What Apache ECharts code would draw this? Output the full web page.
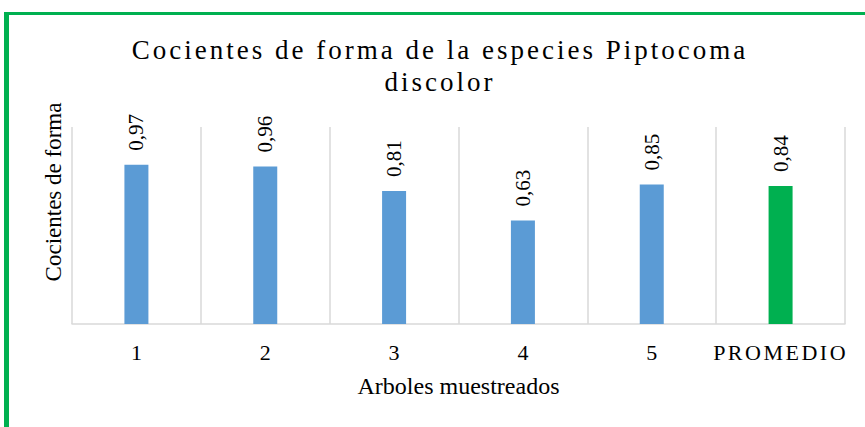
<!DOCTYPE html>
<html>
<head>
<meta charset="utf-8">
<script src="https://cdn.jsdelivr.net/npm/echarts@6/dist/echarts.min.js"></script>
<style>
  html, body { margin: 0; padding: 0; background: #fff; }
  #wrap { position: relative; width: 865px; height: 427px; overflow: hidden; }
  #chart { position: absolute; left: 0; top: 0; width: 865px; height: 427px; }
  #frame {
    position: absolute; left: 4px; top: 12px; width: 900px; height: 500px;
    border-left: 5px solid #00b050; border-top: 3px solid #00b050;
    pointer-events: none;
  }
</style>
</head>
<body>
<div id="wrap">
  <div id="chart"></div>
  <div id="frame"></div>
</div>
<script>
// datos del grafico
const titleText = 'Cocientes de forma de la especies Piptocoma\ndiscolor'
const categories = ['1', '2', '3', '4', '5', 'PROMEDIO']
const cocientes = [0.97, 0.96, 0.81, 0.63, 0.85, 0.84]
const barColors = ['#5b9bd5', '#5b9bd5', '#5b9bd5', '#5b9bd5', '#5b9bd5', '#00b050']
const xName = 'Arboles muestreados'
const yName = 'Cocientes de forma'

const serif = 'Liberation Serif'

const chart = echarts.init(document.getElementById('chart'), null, { renderer: 'svg' })

chart.setOption({
  animation: false,
  title: {
    text: titleText,
    left: 440,
    top: 34,
    padding: 0,
    textAlign: 'center',
    textStyle: {
      fontFamily: serif,
      fontSize: 27,
      fontWeight: 'normal',
      color: '#000',
      lineHeight: 32
    }
  },
  grid: {
    left: 72,
    right: 20,
    top: 127,
    bottom: 103
  },
  xAxis: {
    type: 'category',
    data: categories,
    name: xName,
    nameLocation: 'middle',
    nameGap: 50,
    nameTextStyle: {
      fontFamily: serif,
      fontSize: 24,
      color: '#000'
    },
    axisLine: { lineStyle: { color: '#d9d9d9', width: 1.5 } },
    axisTick: { show: false },
    axisLabel: {
      interval: 0,
      margin: 17,
      fontFamily: serif,
      fontSize: 22,
      color: '#000'
    },
    splitLine: {
      show: true,
      interval: 0,
      lineStyle: { color: '#d9d9d9', width: 1.5 }
    }
  },
  yAxis: {
    type: 'value',
    min: 0,
    max: 1.2,
    axisLine: { show: false },
    axisTick: { show: false },
    axisLabel: { show: false },
    splitLine: { show: false }
  },
  graphic: [
    {
      type: 'text',
      x: 53,
      y: 192,
      rotation: Math.PI / 2,
      style: {
        text: yName,
        fontFamily: serif,
        fontSize: 23,
        fill: '#000',
        align: 'center',
        verticalAlign: 'middle'
      }
    }
  ],
  series: [
    {
      type: 'bar',
      barWidth: 24,
      data: cocientes.map((v, i) => ({ value: v, itemStyle: { color: barColors[i] } })),
      label: {
        show: true,
        position: 'top',
        distance: 14,
        rotate: 90,
        align: 'left',
        verticalAlign: 'middle',
        fontFamily: serif,
        fontSize: 21,
        color: '#000',
        formatter: p => p.value.toFixed(2).replace('.', ',')
      }
    }
  ]
})

// espaciado de letras como en el original (titulo y PROMEDIO)
const spaced = {
  'Cocientes de forma de la especies Piptocoma': '3px',
  'discolor': '3px',
  'PROMEDIO': '2.5px'
}
document.querySelectorAll('#chart svg text').forEach(t => {
  const s = spaced[t.textContent.trim()]
  if (s) t.setAttribute('letter-spacing', s)
})
</script>
</body>
</html>
